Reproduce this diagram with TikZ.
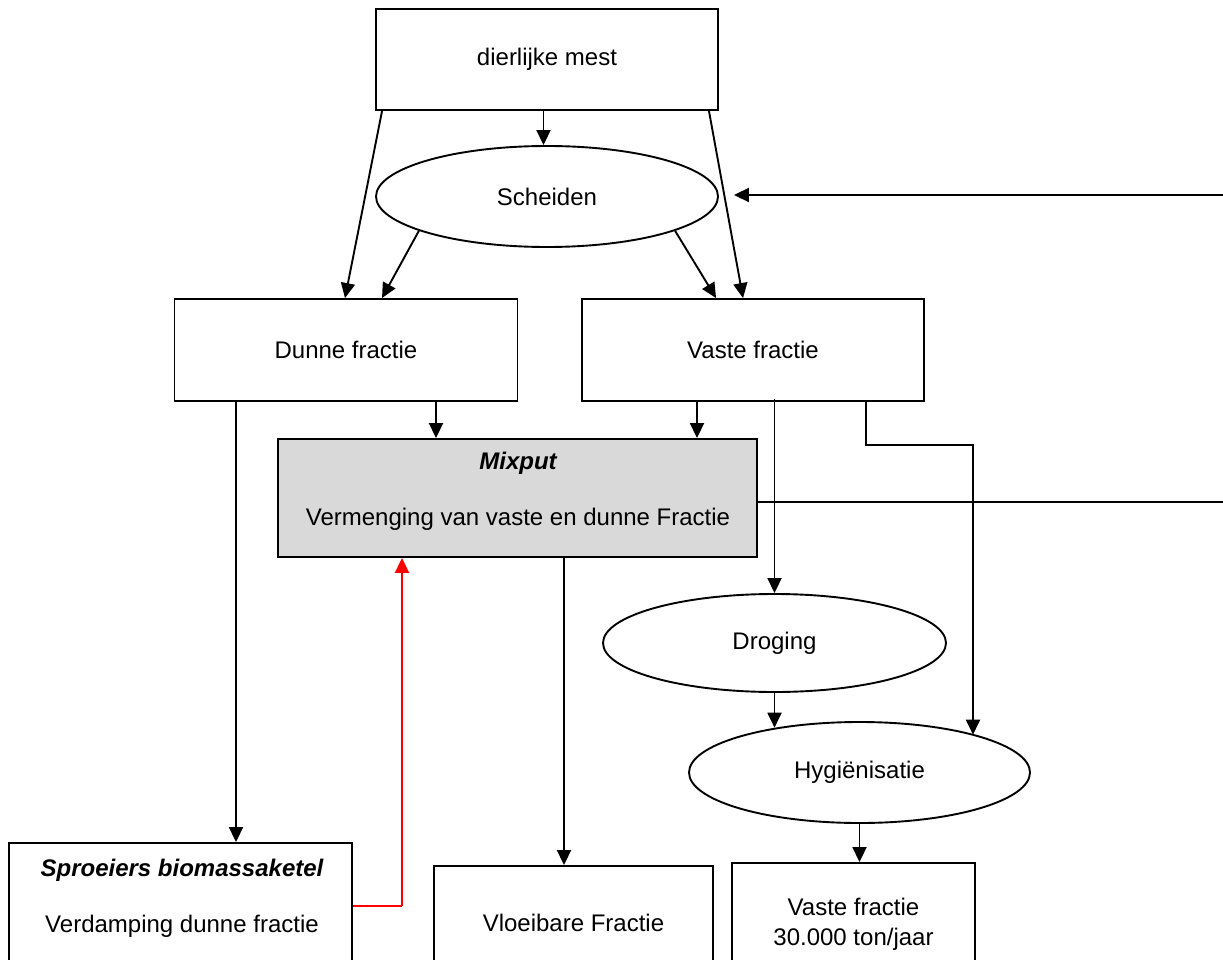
\documentclass[tikz,border=0pt]{standalone}
\usepackage{fontspec}
\setmainfont{Liberation Sans}
\usetikzlibrary{shapes.geometric,arrows.meta,calc}
\definecolor{mixgray}{RGB}{217,217,217}
\begin{document}
\begin{tikzpicture}[x=1pt,y=-1pt,
  every node/.style={font=\fontsize{24}{28}\selectfont},
  box/.style={draw,line width=1.9pt,rectangle,inner sep=0pt,align=center},
  oval/.style={draw,line width=1.9pt,ellipse,inner sep=0pt},
  txt/.style={inner sep=0pt,align=center},
  conn/.style={line width=1.9pt},
  arr/.style={line width=1.9pt,-{Triangle[length=15pt,width=14pt]}},
  redarr/.style={line width=1.9pt,red,-{Triangle[length=15pt,width=14pt]}}]
\useasboundingbox (0,0) rectangle (1223,960);
\clip (0,0) rectangle (1223,960);
\fill[white] (0,0) rectangle (1223,960);

% nodes
\node[box,minimum width=342pt,minimum height=101pt] (mest) at (547,59.5) {dierlijke mest};
\node[oval,minimum width=342pt,minimum height=101pt] (scheiden) at (547,196.5) {Scheiden};
\node[box,minimum width=343pt,minimum height=102pt] (dunne) at (346,350) {Dunne fractie};
\node[box,minimum width=342pt,minimum height=102pt] (vaste) at (753,350) {Vaste fractie};
\node[box,fill=mixgray,minimum width=479pt,minimum height=118pt] (mix) at (517.5,498) {};
\node[txt,font=\fontsize{24}{28}\selectfont\bfseries\itshape] (mixT) at (518,463) {Mixput};
\node[txt] (mixS) at (518,519) {Vermenging van vaste en dunne Fractie};
\node[oval,minimum width=343pt,minimum height=98pt] (droging) at (774.5,643) {Droging};
\node[oval,minimum width=341pt,minimum height=101pt] (hyg) at (859.5,772.5) {Hygiënisatie};
\node[box,minimum width=343pt,minimum height=160pt] (sproei) at (180.5,923) {};
\node[txt,font=\fontsize{24}{28}\selectfont\bfseries\itshape] (sproeiT) at (182,870) {Sproeiers biomassaketel};
\node[txt] (sproeiS) at (182,926) {Verdamping dunne fractie};
\node[box,minimum width=279pt,minimum height=114pt] (vloei) at (573.5,923) {Vloeibare Fractie};
\node[box,minimum width=243pt,minimum height=122pt] (vbot) at (853.5,924) {Vaste fractie\\[2pt]30.000 ton/jaar};

% helper coordinates
\coordinate (bend) at (973,445);
\coordinate (rightA) at (1223,195);
\coordinate (rightB) at (1223,502);
\coordinate (redbend) at (402,906);

% connectors
\draw[arr] ([xshift=-3.5pt]mest.south) -- ([xshift=-3.5pt]scheiden.north);
\draw[arr] ([xshift=7pt]mest.south west) -- ([xshift=-1pt]dunne.north);
\draw[arr] (scheiden.195.5) -- ([xshift=36pt]dunne.north);
\draw[arr] (scheiden.345.4) -- ([xshift=135pt]vaste.north west);
\draw[arr] ([xshift=-10pt]mest.south east) -- ([xshift=162pt]vaste.north west);
\draw[arr] ([xshift=90pt]dunne.south) -- ([xshift=90pt]dunne.south |- mix.north);
\draw[arr] ([xshift=-56pt]vaste.south) -- ([xshift=-56pt]vaste.south |- mix.north);
\draw[arr] ([yshift=3pt]vaste.south -| droging.north) -- (droging.north);
\draw[arr] ([xshift=113pt]vaste.south) |- (bend) -- (bend |- hyg.18.66);
\draw[arr] (droging.south) -- (droging.south |- hyg.152.9);
\draw[arr] (hyg.south) -- (hyg.south |- vbot.north);
\draw[arr] ([xshift=-9.5pt]vloei.north |- mix.south) -- ([xshift=-9.5pt]vloei.north);
\draw[arr] ([xshift=55.5pt]sproei.north |- dunne.south) -- ([xshift=55.5pt]sproei.north);
\draw[conn,red] (sproei.east |- redbend) -- (redbend);
\draw[redarr] (redbend) -- (redbend |- mix.south);
\draw[conn] ([yshift=-4pt]mix.east) -- (rightB);
\draw[arr] (rightA) -- ([xshift=15pt]scheiden.east |- rightA);
\end{tikzpicture}
\end{document}
